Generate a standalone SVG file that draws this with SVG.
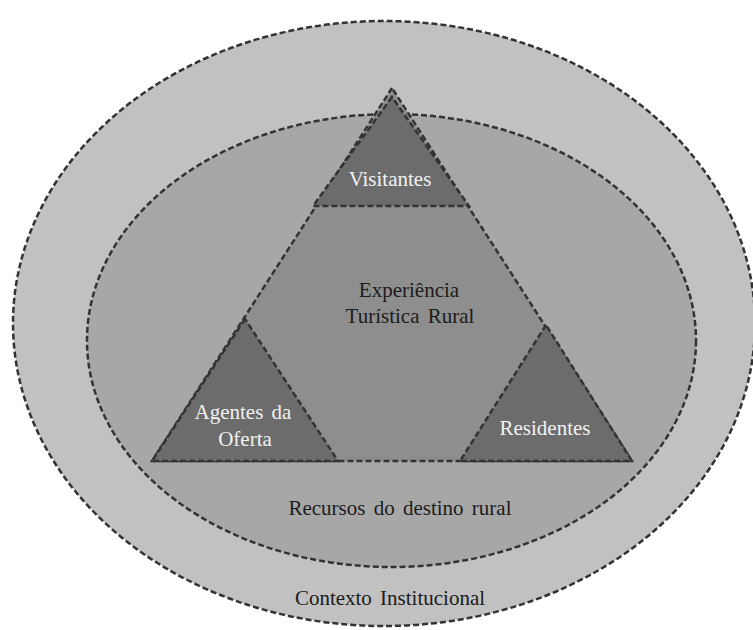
<svg xmlns="http://www.w3.org/2000/svg" width="753" height="630" viewBox="0 0 753 630">
<style>
.d{stroke:#333;stroke-width:2.5;stroke-dasharray:6 3;}
.dk{fill:#1c1c1c;}
.wt{fill:#f2f2f2;}
.sm{fill:#6c6c6c;}
</style>
<rect width="753" height="630" fill="#ffffff"/>
<g font-family="'Liberation Serif', 'Times New Roman', 'DejaVu Serif', serif" font-size="21" text-anchor="middle" word-spacing="3">
<g id="contexto">
<ellipse class="d" cx="384" cy="323.5" rx="371" ry="302.5" fill="#c1c1c1"/>
<text class="dk" x="390" y="605">Contexto Institucional</text>
</g>
<g id="recursos">
<ellipse class="d" cx="391.5" cy="340.5" rx="304.5" ry="226.5" fill="#a7a7a7"/>
<text class="dk" x="400" y="515">Recursos do destino rural</text>
</g>
<g id="experiencia">
<polygon class="d" points="392,88 152,461 632,461" fill="#8e8e8e"/>
<text class="dk" x="409" y="297">Experiência</text>
<text class="dk" x="410" y="323">Turística Rural</text>
</g>
<g id="visitantes">
<polygon class="d sm" points="392,97 313,206 469,206"/>
<text class="wt" x="390" y="186">Visitantes</text>
</g>
<g id="agentes">
<polygon class="d sm" points="245,319 152,461 338,461"/>
<text class="wt" x="243" y="419">Agentes da</text>
<text class="wt" x="245" y="446">Oferta</text>
</g>
<g id="residentes">
<polygon class="d sm" points="546,325 460,461 632,461"/>
<text class="wt" x="545" y="435">Residentes</text>
</g>
</g>
<g id="connectors"/>
</svg>
